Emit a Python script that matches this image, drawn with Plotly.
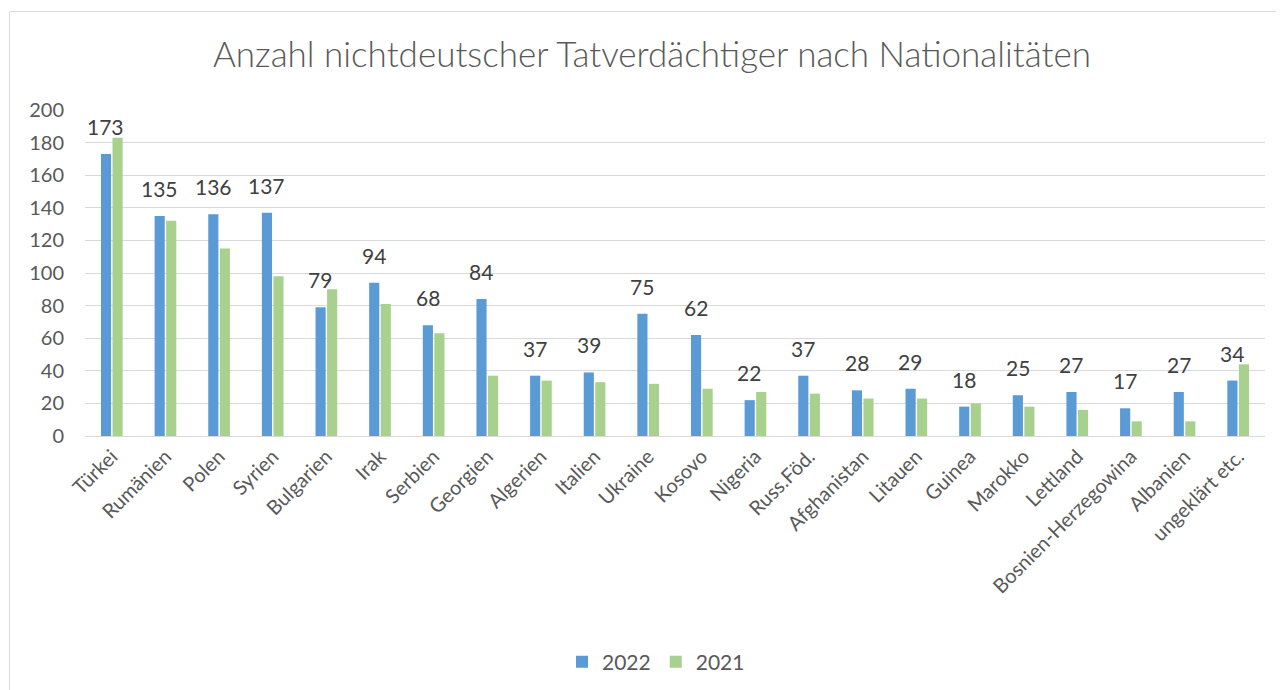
import plotly.graph_objects as go

categories = ["Türkei", "Rumänien", "Polen", "Syrien", "Bulgarien", "Irak", "Serbien",
              "Georgien", "Algerien", "Italien", "Ukraine", "Kosovo", "Nigeria", "Russ.Föd.",
              "Afghanistan", "Litauen", "Guinea", "Marokko", "Lettland",
              "Bosnien-Herzegowina", "Albanien", "ungeklärt etc."]
values_2022 = [173, 135, 136, 137, 79, 94, 68, 84, 37, 39, 75, 62, 22, 37, 28, 29, 18, 25, 27, 17, 27, 34]
values_2021 = [183, 132, 115, 98, 90, 81, 63, 37, 34, 33, 32, 29, 27, 26, 23, 23, 20, 18, 16, 9, 9, 44]
y_ticks = [0, 20, 40, 60, 80, 100, 120, 140, 160, 180, 200]

FONT = "Lato, 'Open Sans', sans-serif"
GRAY = "#595959"

OFF = 8  # page body margin
W, H = 1284, 690
L, R, T, B = 85 - OFF, 1284 - 1265 + OFF, 110 - OFF, 690 - 436 + OFF
pw = W - L - R
ph = H - T - B

fig = go.Figure()
fig.add_trace(go.Bar(name="2022", x=categories, y=values_2022, marker_color="#5B9BD5",
                     marker_line_width=0))
fig.add_trace(go.Bar(name="2021", x=categories, y=values_2021, marker_color="#A9D18E",
                     marker_line_width=0))

for c, v in zip(categories, values_2022):
    fig.add_annotation(x=c, y=v, text=str(v), showarrow=False, xref="x", yref="y",
                       xanchor="center", yanchor="bottom", xshift=-6, yshift=13,
                       font=dict(family=FONT, size=21, color="#404040"))

def px_x(p):
    return (p - OFF - L) / pw

def px_y(p):
    return (H - B - (p - OFF)) / ph

fig.add_shape(type="rect", xref="paper", yref="paper",
              x0=px_x(9.5), x1=px_x(1320), y0=px_y(11.5), y1=px_y(720),
              line=dict(color="#d9d9d9", width=1), fillcolor="rgba(0,0,0,0)", layer="below")

fig.update_layout(
    width=W, height=H,
    margin=dict(l=L, r=R, t=T, b=B, autoexpand=False),
    paper_bgcolor="white", plot_bgcolor="white",
    barmode="group", bargap=0.57, bargroupgap=0.12,
    title=dict(text="Anzahl nichtdeutscher Tatverdächtiger nach Nationalitäten",
               x=(652 - OFF) / W, xref="container", xanchor="center",
               y=1 - (55 - OFF) / H, yanchor="middle", yref="container",
               font=dict(family=FONT, size=35, color=GRAY, weight=300)),
    font=dict(family=FONT, color=GRAY),
    legend=dict(orientation="h", x=px_x(656), xanchor="center", y=px_y(662), yanchor="middle",
                font=dict(family=FONT, size=21, color=GRAY), itemwidth=30,
                traceorder="normal"),
    xaxis=dict(tickangle=-45, tickfont=dict(family=FONT, size=20, color=GRAY),
               showline=True, linecolor="#d9d9d9", linewidth=1, showgrid=False,
               ticks="", fixedrange=True),
    yaxis=dict(range=[0, 200], tickvals=y_ticks, showgrid=True, gridcolor="#d9d9d9", gridwidth=1,
               zeroline=False, showline=False, ticks="",
               tickfont=dict(family=FONT, size=20, color=GRAY), ticklabelstandoff=20),
)

fig.write_html("out.html")
